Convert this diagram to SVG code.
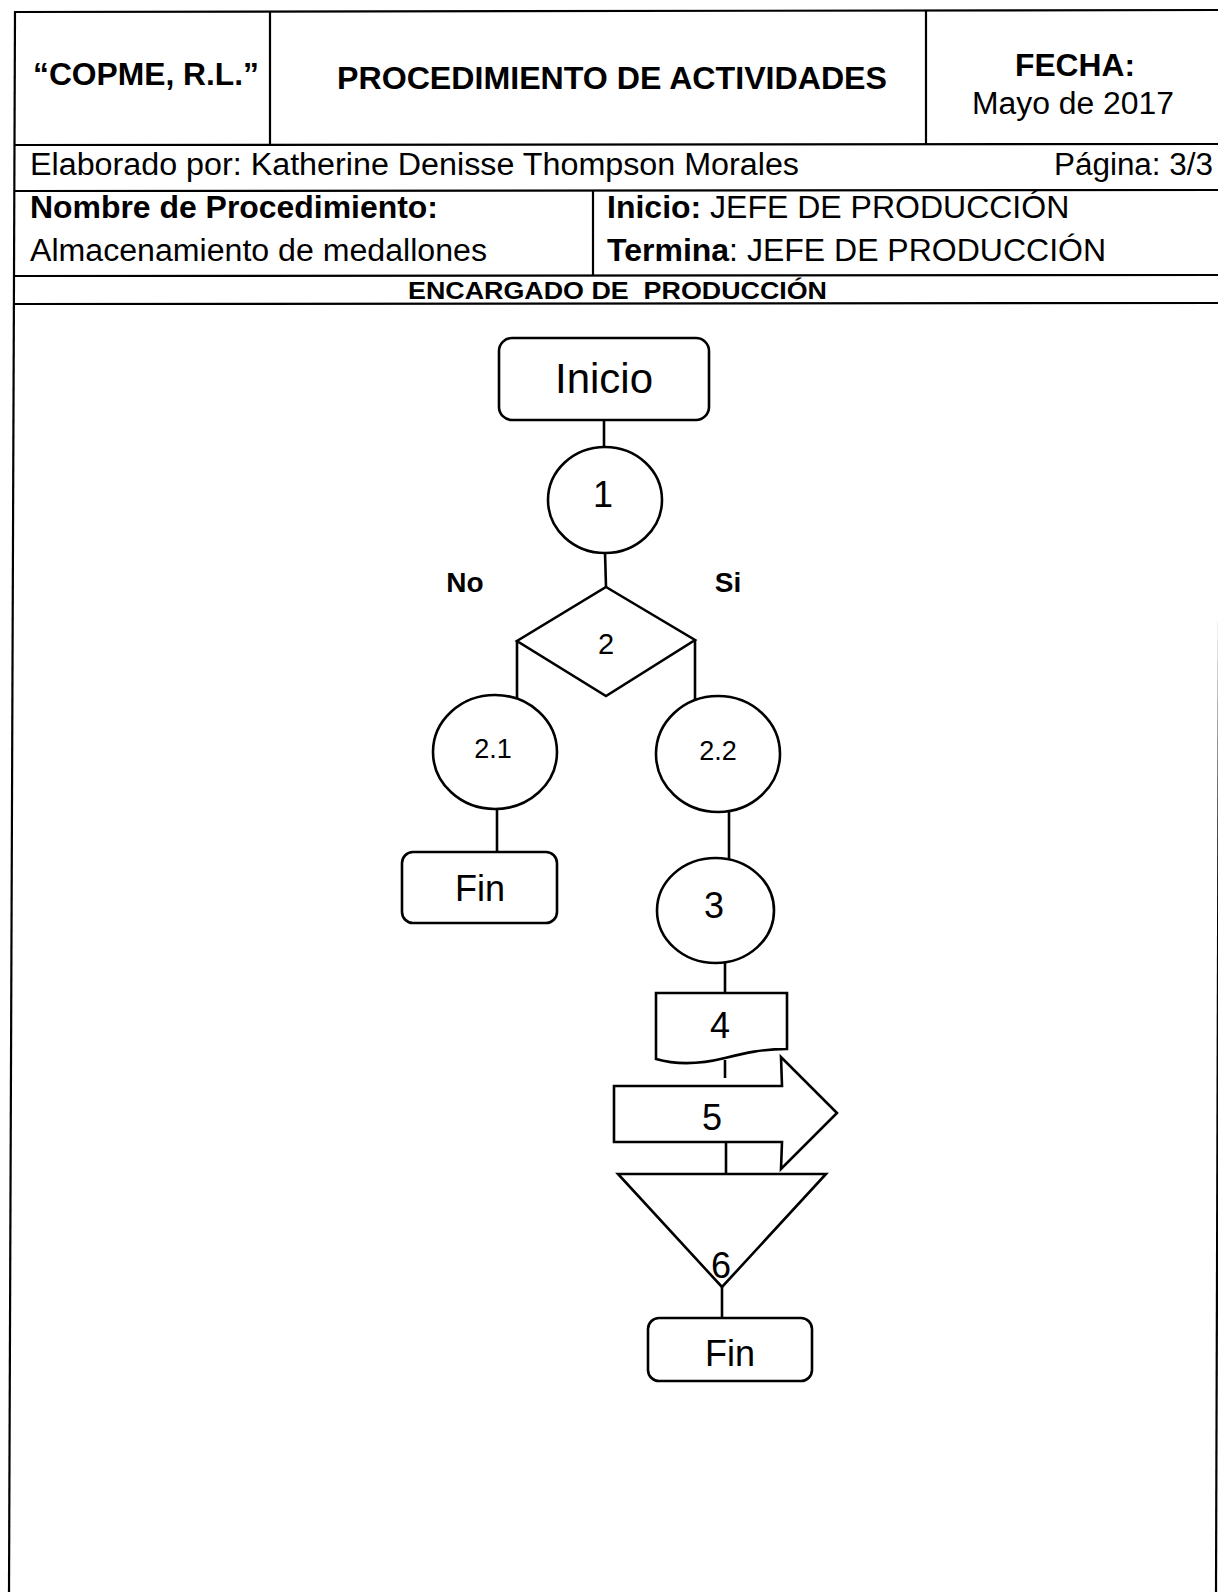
<svg xmlns="http://www.w3.org/2000/svg" width="1218" height="1592" viewBox="0 0 1218 1592">
<style>
text{font-family:"Liberation Sans",Arial,sans-serif;fill:#000}
.b{font-weight:bold}
.frame{stroke:#000;stroke-width:2.2;fill:none}
.shape{stroke:#000;stroke-width:2.6;fill:#fff}
.conn{stroke:#000;stroke-width:2.6;fill:none}
.h{font-size:31px}
.n{font-size:36px;text-anchor:middle}
.s{font-size:27px;text-anchor:middle}
</style>
<rect width="1218" height="1592" fill="#fff"/>
<g id="frame">
<line class="frame" x1="15" y1="12" x2="9" y2="1592"/>
<line class="frame" x1="1221" y1="10" x2="1216" y2="1592"/>
<line class="frame" x1="14" y1="12" x2="1218" y2="10"/>
<line class="frame" x1="14" y1="145" x2="1218" y2="144"/>
<line class="frame" x1="14" y1="191" x2="1218" y2="190"/>
<line class="frame" x1="13" y1="276" x2="1218" y2="275"/>
<line class="frame" x1="13" y1="304" x2="1218" y2="303"/>
<line class="frame" x1="270" y1="12" x2="270" y2="145"/>
<line class="frame" x1="926" y1="11" x2="926" y2="144"/>
<line class="frame" x1="593" y1="191" x2="593" y2="276"/>
</g>
<g id="header">
<text class="h b" x="33" y="85" textLength="226" lengthAdjust="spacingAndGlyphs">“COPME, R.L.”</text>
<text class="h b" x="337" y="89" textLength="550" lengthAdjust="spacingAndGlyphs">PROCEDIMIENTO DE ACTIVIDADES</text>
<text class="h b" x="1015" y="76" textLength="120" lengthAdjust="spacingAndGlyphs">FECHA:</text>
<text class="h" x="972" y="114" textLength="202" lengthAdjust="spacingAndGlyphs">Mayo de 2017</text>
<text class="h" x="30" y="175" textLength="769" lengthAdjust="spacingAndGlyphs">Elaborado por: Katherine Denisse Thompson Morales</text>
<text class="h" x="1054" y="175" textLength="159" lengthAdjust="spacingAndGlyphs">Página: 3/3</text>
<text class="h b" x="30" y="218" textLength="408" lengthAdjust="spacingAndGlyphs">Nombre de Procedimiento:</text>
<text class="h" x="30" y="261" textLength="457" lengthAdjust="spacingAndGlyphs">Almacenamiento de medallones</text>
<text x="607" y="218" font-size="32"><tspan class="b">Inicio:</tspan> JEFE DE PRODUCCIÓN</text>
<text x="607" y="261" font-size="32"><tspan class="b">Termina</tspan>: JEFE DE PRODUCCIÓN</text>
<text class="b" x="408" y="299" font-size="24" textLength="419" lengthAdjust="spacingAndGlyphs">ENCARGADO DE&#160; PRODUCCIÓN</text>
</g>
<g id="connectors">
<line class="conn" x1="604" y1="420" x2="604" y2="448"/>
<line class="conn" x1="605" y1="552" x2="606" y2="587"/>
<line class="conn" x1="517" y1="641" x2="517" y2="699"/>
<line class="conn" x1="695" y1="640" x2="695" y2="701"/>
<line class="conn" x1="497" y1="808" x2="497" y2="852"/>
<line class="conn" x1="729" y1="811" x2="729" y2="859"/>
<line class="conn" x1="725" y1="962" x2="725" y2="993"/>
<line class="conn" x1="725" y1="1060" x2="725" y2="1078"/>
<line class="conn" x1="726" y1="1142" x2="726" y2="1174"/>
<line class="conn" x1="722" y1="1287" x2="722" y2="1318"/>
</g>
<g id="lbl-no"><text class="b" x="465" y="592" font-size="28" text-anchor="middle">No</text></g>
<g id="lbl-si"><text class="b" x="728" y="592" font-size="28" text-anchor="middle">Si</text></g>
<g id="inicio">
<rect class="shape" x="499" y="338" width="210" height="82" rx="13"/>
<text x="604" y="393" font-size="42" text-anchor="middle">Inicio</text>
</g>
<g id="n1">
<ellipse class="shape" cx="605" cy="500" rx="57" ry="53"/>
<text class="n" x="603" y="507">1</text>
</g>
<g id="n2">
<polygon class="shape" points="606,587 695,640 606,696 517,641"/>
<text x="606" y="654" font-size="29" text-anchor="middle">2</text>
</g>
<g id="n2-1">
<ellipse class="shape" cx="495" cy="752" rx="62" ry="57"/>
<text class="s" x="493" y="758">2.1</text>
</g>
<g id="fin1">
<rect class="shape" x="402" y="852" width="155" height="71" rx="11"/>
<text x="480" y="901" font-size="36" text-anchor="middle">Fin</text>
</g>
<g id="n2-2">
<ellipse class="shape" cx="718" cy="754" rx="62" ry="58"/>
<text class="s" x="718" y="760">2.2</text>
</g>
<g id="n3">
<ellipse class="shape" cx="715.5" cy="910.5" rx="58.5" ry="52.5"/>
<text class="n" x="714" y="918">3</text>
</g>
<g id="n4">
<path class="shape" d="M656,993 L787,993 L787,1049 C762,1049 745,1053 725,1058 C705,1063 680,1066 656,1059 Z"/>
<text class="n" x="720" y="1038">4</text>
</g>
<g id="n5">
<polygon class="shape" points="614,1086 782,1086 781,1057 837,1113 781,1169 782,1142 614,1142"/>
<text class="n" x="712" y="1130">5</text>
</g>
<g id="n6">
<polygon class="shape" points="618,1174 826,1174 722,1287"/>
<text class="n" x="721" y="1278">6</text>
</g>
<g id="fin2">
<rect class="shape" x="648" y="1318" width="164" height="63" rx="11"/>
<text x="730" y="1366" font-size="36" text-anchor="middle">Fin</text>
</g>
</svg>
